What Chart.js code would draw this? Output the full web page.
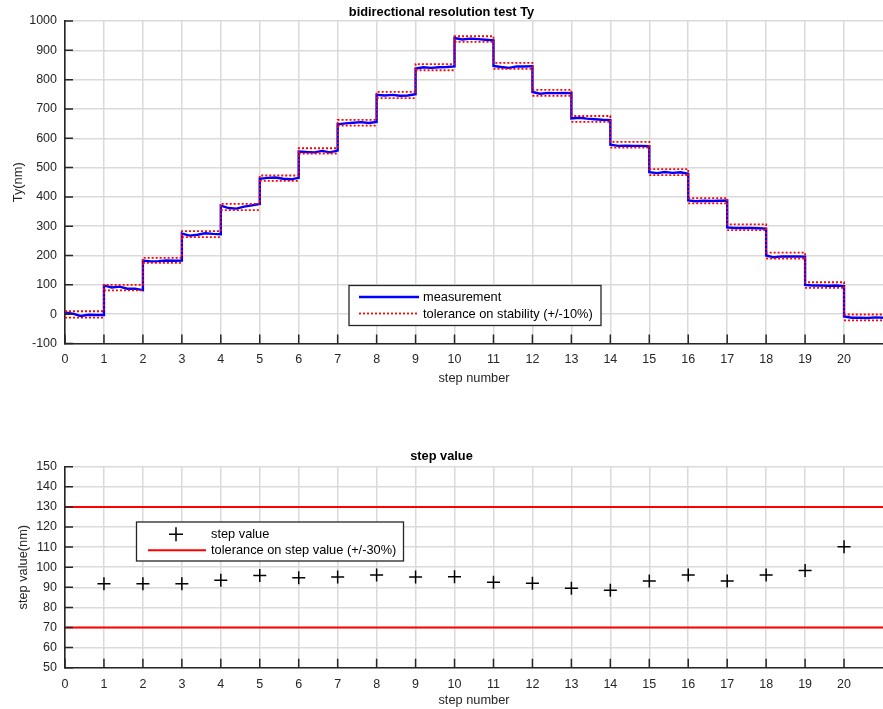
<!DOCTYPE html>
<html><head><meta charset="utf-8">
<script src="https://cdn.jsdelivr.net/npm/chart.js@4.4.1/dist/chart.umd.min.js"></script>
<style>
html,body{margin:0;padding:0;background:#fff;overflow:hidden;width:883px;height:709px;}
#c1{position:absolute;left:0;top:0;}
#c2{position:absolute;left:0;top:440px;}
</style></head><body>
<canvas id="c1" width="883" height="390"></canvas>
<canvas id="c2" width="883" height="269"></canvas>
<script>
// ---------- data ----------
const xTickValues = [0,1,2,3,4,5,6,7,8,9,10,11,12,13,14,15,16,17,18,19,20];
const yTopTicks = [-100,0,100,200,300,400,500,600,700,800,900,1000];
const yBotTicks = [50,60,70,80,90,100,110,120,130,140,150];
const sampleOffsets = [0, 0.2, 0.4, 0.6, 0.8, 1.0];
// measured Ty (nm) samples inside each step 0..20
const measurement = [
  [6, 2, -6, -2, -3, -3],
  [98, 91, 94, 87, 87, 82],
  [183, 180, 181, 183, 182, 183],
  [275, 268, 271, 276, 274, 273],
  [370, 362, 360, 367, 371, 376],
  [462, 465, 466, 462, 460, 465],
  [555, 553, 552, 557, 552, 558],
  [648, 651, 653, 655, 652, 656],
  [748, 746, 748, 745, 746, 750],
  [838, 842, 840, 842, 843, 845],
  [942, 937, 940, 938, 936, 934],
  [847, 843, 840, 845, 845, 846],
  [758, 752, 755, 754, 755, 754],
  [668, 670, 667, 665, 663, 662],
  [578, 574, 575, 574, 574, 573],
  [484, 481, 485, 482, 484, 479],
  [388, 385, 387, 386, 387, 388],
  [296, 294, 294, 294, 293, 292],
  [200, 194, 197, 197, 197, 196],
  [100, 98, 98, 97, 98, 96],
  [-8, -12, -12, -13, -11, -12]
];
const tolUpper = [10, 100, 192, 283, 376, 473, 566, 663, 758, 853, 948, 857, 765, 676, 588, 495, 396, 306, 210, 109, -1];
const tolLower = [-12, 81, 175, 263, 355, 455, 548, 643, 737, 832, 929, 837, 745, 656, 568, 474, 378, 287, 190, 90, -21];
const stepIndex = [1,2,3,4,5,6,7,8,9,10,11,12,13,14,15,16,17,18,19,20];
const stepValues = [91.8, 91.8, 91.8, 93.5, 95.9, 94.8, 95.1, 96.1, 95.1, 95.3, 92.5, 92, 89.5, 88.5, 93.1, 96.1, 93.1, 96.1, 98.3, 110.2];
const stepTolHigh = 130;
const stepTolLow = 70;
const xMax = 21;

// ---------- build ----------
const measPts = [];
measurement.forEach((arr, i) => arr.forEach((v, k) => measPts.push({x: i + sampleOffsets[k], y: v})));
const upPts = tolUpper.map((v, i) => ({x: i, y: v})); upPts.push({x: xMax, y: tolUpper[tolUpper.length-1]});
// lower tolerance: horizontal pieces only (verticals already traced by the upper line)
const loPts = [];
tolLower.forEach((v, i) => { loPts.push({x: i, y: v}, {x: i + 1, y: v}, {x: i + 1, y: null}); });
const stepPts = stepIndex.map((s, i) => ({x: s, y: stepValues[i]}));

const FONT = 'Liberation Sans, Arial, sans-serif';
const TXT = '#262626';
const GRID = '#dadada';

const inwardTicks = {
  id: 'inwardTicks',
  afterDatasetsDraw(chart) {
    const {ctx, chartArea: a, scales: {x, y}} = chart;
    ctx.save();
    ctx.strokeStyle = TXT; ctx.lineWidth = 1.5;
    ctx.beginPath();
    x.ticks.forEach(t => { const px = x.getPixelForValue(t.value); ctx.moveTo(px, a.bottom); ctx.lineTo(px, a.bottom - 9); });
    y.ticks.forEach(t => { const py = y.getPixelForValue(t.value); ctx.moveTo(a.left, py); ctx.lineTo(a.left + 8, py); });
    ctx.stroke();
    ctx.restore();
  }
};

function xScale(areaBottom, tickPad, titlePadBottom) {
  return {
    type: 'linear', position: 'bottom', min: 0, max: xMax,
    afterBuildTicks: s => { s.ticks = xTickValues.map(v => ({value: v})); },
    afterFit: s => { s.height = s.chart.height - areaBottom; },
    grid: {color: GRID, lineWidth: 1.5, drawTicks: false},
    border: {display: true, color: TXT, width: 1.6},
    ticks: {color: TXT, font: {family: FONT, size: 12.5}, padding: tickPad, maxRotation: 0, autoSkip: false, callback: v => String(v)},
    title: {display: true, text: 'step number', color: TXT, font: {family: FONT, size: 12.8}, padding: {top: 0, bottom: titlePadBottom}}
  };
}
function yScale(min, max, ticks, label, titlePadTop) {
  return {
    type: 'linear', position: 'left', min: min, max: max,
    afterBuildTicks: s => { s.ticks = ticks.map(v => ({value: v})); },
    afterFit: s => { s.width = 65; },
    grid: {color: GRID, lineWidth: 1.5, drawTicks: false},
    border: {display: true, color: TXT, width: 1.6},
    ticks: {color: TXT, font: {family: FONT, size: 12.5}, padding: 8, autoSkip: false, callback: v => String(v)},
    title: {display: true, text: label, color: TXT, font: {family: FONT, size: 12.8}, padding: {top: titlePadTop, bottom: 0}}
  };
}

// ---------- top chart ----------
const legendTop = {
  id: 'legendTop',
  afterDraw(chart) {
    const ctx = chart.ctx, ds = chart.data.datasets;
    ctx.save();
    ctx.fillStyle = '#fff'; ctx.fillRect(349, 285.5, 252, 40);
    ctx.strokeStyle = TXT; ctx.lineWidth = 1.3; ctx.strokeRect(349, 285.5, 252, 40);
    ctx.strokeStyle = '#0000ff'; ctx.lineWidth = 2.5;
    ctx.beginPath(); ctx.moveTo(359, 297); ctx.lineTo(419, 297); ctx.stroke();
    ctx.strokeStyle = '#ff0000'; ctx.lineWidth = 1.8; ctx.setLineDash([2, 2]);
    ctx.beginPath(); ctx.moveTo(359, 313.5); ctx.lineTo(419, 313.5); ctx.stroke();
    ctx.setLineDash([]);
    ctx.fillStyle = '#000'; ctx.font = '12.8px ' + FONT; ctx.textBaseline = 'middle'; ctx.textAlign = 'left';
    ctx.fillText(ds[2].label, 423, 297);
    ctx.fillText(ds[0].label, 423, 314);
    ctx.restore();
  }
};

new Chart(document.getElementById('c1'), {
  type: 'line',
  data: {
    datasets: [
      {label: 'tolerance on stability (+/-10%)', data: upPts, stepped: true, borderColor: '#ff0000', borderWidth: 1.8, borderDash: [2, 2], pointRadius: 0, fill: false, order: 0},
      {label: 'tolerance lower', data: loPts, spanGaps: false, borderColor: '#ff0000', borderWidth: 1.8, borderDash: [2, 2], pointRadius: 0, fill: false, order: 0},
      {label: 'measurement', data: measPts, borderColor: '#0000ff', borderWidth: 2.4, pointRadius: 0, fill: false, tension: 0, order: 1}
    ]
  },
  options: {
    responsive: false, animation: false, events: [],
    layout: {padding: 0, autoPadding: false},
    plugins: {
      legend: {display: false}, tooltip: {enabled: false},
      title: {display: true, text: 'bidirectional resolution test Ty', color: '#000', font: {family: FONT, size: 12.8, weight: 'bold'}, padding: {top: 4.3, bottom: 1.34}}
    },
    scales: {
      x: xScale(343.5, 8.5, 3.8),
      y: yScale(-100, 1000, yTopTicks, 'Ty(nm)', 10.5)
    }
  },
  plugins: [inwardTicks, legendTop]
});

// ---------- bottom chart ----------
const legendBot = {
  id: 'legendBot',
  afterDraw(chart) {
    const ctx = chart.ctx, ds = chart.data.datasets;
    ctx.save();
    ctx.fillStyle = '#fff'; ctx.fillRect(136.5, 82, 267, 39);
    ctx.strokeStyle = TXT; ctx.lineWidth = 1.3; ctx.strokeRect(136.5, 82, 267, 39);
    ctx.strokeStyle = '#000'; ctx.lineWidth = 1.5;
    ctx.beginPath(); ctx.moveTo(169, 94.3); ctx.lineTo(183, 94.3); ctx.moveTo(176, 87.3); ctx.lineTo(176, 101.3); ctx.stroke();
    ctx.strokeStyle = '#ff0000'; ctx.lineWidth = 2;
    ctx.beginPath(); ctx.moveTo(148, 110.3); ctx.lineTo(206, 110.3); ctx.stroke();
    ctx.fillStyle = '#000'; ctx.font = '12.8px ' + FONT; ctx.textBaseline = 'middle'; ctx.textAlign = 'left';
    ctx.fillText(ds[0].label, 211, 94.3);
    ctx.fillText(ds[1].label, 211, 110.5);
    ctx.restore();
  }
};

new Chart(document.getElementById('c2'), {
  type: 'line',
  data: {
    datasets: [
      {label: 'step value', data: stepPts, showLine: false, pointStyle: 'cross', pointRadius: 6.5, pointBorderWidth: 1.5, borderColor: '#000', pointBorderColor: '#000', order: 0},
      {label: 'tolerance on step value (+/-30%)', data: [{x: 0, y: stepTolHigh}, {x: xMax, y: stepTolHigh}], borderColor: '#ff0000', borderWidth: 2, pointRadius: 0, fill: false, order: 1},
      {label: 'tolerance low', data: [{x: 0, y: stepTolLow}, {x: xMax, y: stepTolLow}], borderColor: '#ff0000', borderWidth: 2, pointRadius: 0, fill: false, order: 1}
    ]
  },
  options: {
    responsive: false, animation: false, events: [],
    layout: {padding: 0, autoPadding: false},
    plugins: {
      legend: {display: false}, tooltip: {enabled: false},
      title: {display: true, text: 'step value', color: '#000', font: {family: FONT, size: 12.8, weight: 'bold'}, padding: {top: 8.6, bottom: 2.74}}
    },
    scales: {
      x: xScale(227.7, 9, 1.3),
      y: yScale(50, 150, yBotTicks, 'step value(nm)', 15.6)
    }
  },
  plugins: [inwardTicks, legendBot]
});
</script>
</body></html>
